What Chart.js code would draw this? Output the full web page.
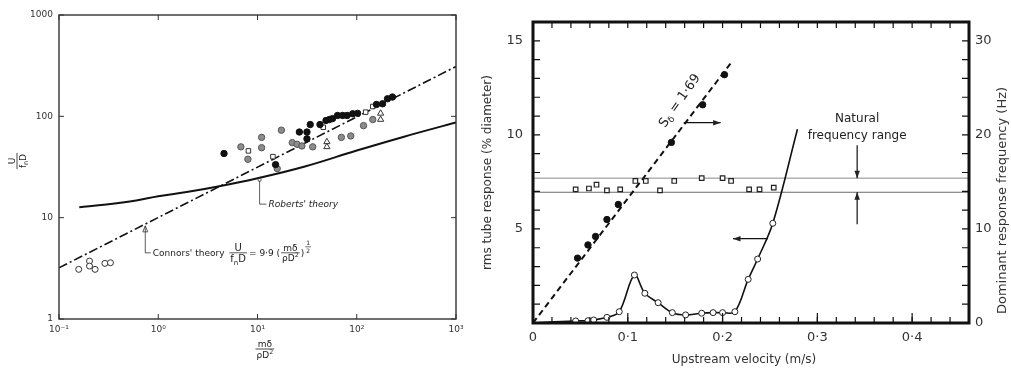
<!DOCTYPE html>
<html lang="en">
<head>
  <meta charset="UTF-8" />
  <title>Tube response charts</title>
  <style>
    body { margin: 0; background: #fff; }
    #wrap { position: relative; width: 1011px; height: 370px; overflow: hidden; }
    #left { position: absolute; left: 0; top: 0; }
    #right { position: absolute; left: 480px; top: 0; }
  </style>
</head>
<body>
  <div id="wrap">
    <canvas id="left" width="480" height="370"></canvas>
    <canvas id="right" width="531" height="370"></canvas>
  </div>

  <script src="https://cdn.jsdelivr.net/npm/chart.js"></script>
  <script>
    // ---------- left panel: reduced velocity vs mass-damping ----------
    const leftXTicks = [0.1, 1, 10, 100, 1000];
    const leftXLabels = ['10⁻¹', '10⁰', '10¹', '10²', '10³'];
    const leftYTicks = [1, 10, 100, 1000];
    const leftYLabels = ['1', '10', '100', '1000'];

    const connorsLine = [[0.1, 3.2], [1000, 310]];
    const robertsCurve = [[0.16, 12.7], [0.3, 13.5], [0.6, 14.8], [1, 16.3], [2, 18], [4, 20.3],
                          [10, 24.5], [30, 32], [100, 46], [300, 63], [1000, 87]];

    const filledPts = [[4.6, 43], [15.2, 33.4], [26.4, 70], [31.5, 70], [34, 83], [31.5, 60], [42.6, 83],
                       [49, 91], [53, 93], [57, 95], [64, 102], [72, 102], [80, 102], [91, 106],
                       [102, 107], [158, 131], [182, 133], [204, 149], [229, 155]];
    const grayPts = [[6.8, 50], [8, 37.7], [11, 62], [11, 49], [17.4, 73], [15.8, 30.5], [22.4, 55],
                     [25, 53], [28, 51], [36, 50], [70, 62], [87, 64], [117, 81], [145, 93]];
    const squarePts = [[8.1, 45.6], [14.3, 40], [46, 78], [123, 110], [145, 125]];
    const trianglePts = [[50, 56], [50, 50], [174, 93], [174, 107]];
    const openCirclePts = [[0.158, 3.09], [0.203, 3.73], [0.203, 3.33], [0.231, 3.09], [0.29, 3.54], [0.33, 3.59]];

    // annotation anchors (data units)
    const robertsNote = { x: 10.5, yTop: 24.7, yBottom: 13.6, xEnd: 12.3, xText: 12.9 };
    const connorsNote = { x: 0.74, yTop: 8.3, yBottom: 4.5, xEnd: 0.84, xText: 0.88 };

    // ---------- right panel: response vs upstream velocity ----------
    const velTicks = [0, 0.1, 0.2, 0.3, 0.4];
    const velLabels = ['0', '0·1', '0·2', '0·3', '0·4'];
    const respTicks = [5, 10, 15];
    const respLabels = ['5', '10', '15'];
    const freqTicks = [0, 10, 20, 30];
    const freqLabels = ['0', '10', '20', '30'];

    const rmsVel  = [0, 0.045, 0.058, 0.064, 0.078, 0.091, 0.107, 0.118, 0.132, 0.147, 0.161, 0.178,
                     0.190, 0.200, 0.213, 0.227, 0.237, 0.253, 0.279];
    const rmsResp = [0, 0.11, 0.12, 0.16, 0.30, 0.60, 2.55, 1.58, 1.08, 0.55, 0.43, 0.52,
                     0.55, 0.55, 0.60, 2.32, 3.4, 5.3, 10.3];
    const rmsMarked = [0, 1, 1, 1, 1, 1, 1, 1, 1, 1, 1, 1, 1, 1, 1, 1, 1, 1, 0];

    const sqVel  = [0.045, 0.059, 0.067, 0.078, 0.092, 0.108, 0.119, 0.134, 0.149, 0.178, 0.200, 0.209, 0.228, 0.239, 0.254];
    const sqFreq = [14.2, 14.3, 14.7, 14.1, 14.2, 15.1, 15.1, 14.1, 15.1, 15.4, 15.4, 15.1, 14.2, 14.2, 14.4];

    const dotVel  = [0.047, 0.058, 0.066, 0.078, 0.090, 0.146, 0.179, 0.202];
    const dotFreq = [6.9, 8.3, 9.2, 11.0, 12.6, 19.2, 23.2, 26.4];

    const strouhalLine = [[0, 0], [0.21, 27.8]];
    const natFreqLow = 13.9;
    const natFreqHigh = 15.4;

    const strouhalNote = { x: 0.155, f: 23.6, arrowFrom: 0.159, arrowTo: 0.198, arrowF: 21.3 };
    const rmsArrow = { from: 0.248, to: 0.211, y: 4.48 };
    const natNote = { x: 0.342, f1: 21.7, f2: 19.9, downFrom: 18.9, upFrom: 10.5 };

    const toXY = a => a.map(p => ({ x: p[0], y: p[1] }));
    const zipXY = (xs, ys) => xs.map((x, i) => ({ x: x, y: ys[i] }));

    // ---------- drawing helpers ----------
    function arrow(ctx, x1, y1, x2, y2, head) {
      ctx.beginPath(); ctx.moveTo(x1, y1); ctx.lineTo(x2, y2); ctx.stroke();
      const a = Math.atan2(y2 - y1, x2 - x1);
      ctx.beginPath();
      ctx.moveTo(x2, y2);
      ctx.lineTo(x2 - head * Math.cos(a - 0.35), y2 - head * Math.sin(a - 0.35));
      ctx.lineTo(x2 - head * Math.cos(a + 0.35), y2 - head * Math.sin(a + 0.35));
      ctx.closePath(); ctx.fill();
    }

    function runsWidth(ctx, parts, size, family) {
      let w = 0;
      for (const [t, m] of parts) {
        ctx.font = (m ? size * 0.7 : size) + 'px ' + family;
        w += ctx.measureText(t).width;
      }
      return w;
    }
    function runs(ctx, parts, x, y, size, family) {
      let cx = x;
      for (const [t, m] of parts) {
        ctx.font = (m ? size * 0.7 : size) + 'px ' + family;
        const dy = m === 'sub' ? size * 0.3 : m === 'sup' ? -size * 0.45 : 0;
        ctx.fillText(t, cx, y + dy);
        cx += ctx.measureText(t).width;
      }
      return cx - x;
    }
    function fraction(ctx, num, den, left, cy, size, family) {
      const wn = runsWidth(ctx, num, size, family), wd = runsWidth(ctx, den, size, family);
      const w = Math.max(wn, wd) + 2;
      ctx.textAlign = 'left'; ctx.textBaseline = 'alphabetic';
      runs(ctx, num, left + (w - wn) / 2, cy - 2, size, family);
      ctx.beginPath(); ctx.moveTo(left, cy); ctx.lineTo(left + w, cy); ctx.stroke();
      runs(ctx, den, left + (w - wd) / 2, cy + size * 0.85 + 1, size, family);
      return w;
    }

    function innerTicks(ctx, area, scale, values, side, len) {
      ctx.beginPath();
      for (const v of values) {
        const p = scale.getPixelForValue(v);
        if (side === 'bottom') { ctx.moveTo(p, area.bottom); ctx.lineTo(p, area.bottom - len); }
        if (side === 'top') { ctx.moveTo(p, area.top); ctx.lineTo(p, area.top + len); }
        if (side === 'left') { ctx.moveTo(area.left, p); ctx.lineTo(area.left + len, p); }
        if (side === 'right') { ctx.moveTo(area.right, p); ctx.lineTo(area.right - len, p); }
      }
      ctx.stroke();
    }

    const LF = '"DejaVu Sans", sans-serif';

    const leftDecor = {
      id: 'leftDecor',
      afterDraw(chart) {
        const ctx = chart.ctx, a = chart.chartArea, sx = chart.scales.x, sy = chart.scales.y;
        ctx.save();
        ctx.strokeStyle = '#333'; ctx.fillStyle = '#222'; ctx.lineWidth = 1.4;
        ctx.strokeRect(a.left, a.top, a.right - a.left, a.bottom - a.top);
        ctx.lineWidth = 1;
        innerTicks(ctx, a, sx, leftXTicks, 'bottom', 5);
        innerTicks(ctx, a, sx, leftXTicks, 'top', 5);
        innerTicks(ctx, a, sy, leftYTicks, 'left', 5);
        innerTicks(ctx, a, sy, leftYTicks, 'right', 5);

        // Roberts' theory leader
        const rx = sx.getPixelForValue(robertsNote.x);
        const ry1 = sy.getPixelForValue(robertsNote.yTop), ry2 = sy.getPixelForValue(robertsNote.yBottom);
        ctx.lineWidth = 0.8;
        ctx.beginPath(); ctx.moveTo(rx, ry1 + 3); ctx.lineTo(rx, ry2);
        ctx.lineTo(sx.getPixelForValue(robertsNote.xEnd), ry2); ctx.stroke();
        ctx.beginPath(); ctx.arc(rx, ry1 + 2, 1.6, 0, Math.PI * 2); ctx.stroke();
        ctx.font = 'italic 9px ' + LF; ctx.textAlign = 'left'; ctx.textBaseline = 'middle';
        ctx.fillText("Roberts' theory", sx.getPixelForValue(robertsNote.xText), ry2 + 1);

        // Connors' theory leader and formula
        const cx0 = sx.getPixelForValue(connorsNote.x);
        const cy1 = sy.getPixelForValue(connorsNote.yTop), cy2 = sy.getPixelForValue(connorsNote.yBottom);
        ctx.beginPath(); ctx.moveTo(cx0, cy1); ctx.lineTo(cx0, cy2);
        ctx.lineTo(sx.getPixelForValue(connorsNote.xEnd), cy2); ctx.stroke();
        ctx.beginPath(); ctx.moveTo(cx0, cy1); ctx.lineTo(cx0 - 2.5, cy1 + 6); ctx.lineTo(cx0 + 2.5, cy1 + 6);
        ctx.closePath(); ctx.stroke();
        let tx = sx.getPixelForValue(connorsNote.xText);
        const base = cy2 + 3;
        ctx.font = '9px ' + LF; ctx.textBaseline = 'alphabetic';
        ctx.fillText("Connors' theory ", tx, base);
        tx += ctx.measureText("Connors' theory ").width + 2;
        tx += fraction(ctx, [['U', '']], [['f', ''], ['n', 'sub'], ['D', '']], tx, base - 3, 10, LF) + 2;
        ctx.font = '9px ' + LF;
        ctx.fillText('= 9·9 (', tx, base);
        tx += ctx.measureText('= 9·9 (').width + 1;
        tx += fraction(ctx, [['mδ', '']], [['ρD', ''], ['2', 'sup']], tx, base - 3, 9, LF) + 1;
        ctx.font = '9px ' + LF;
        ctx.fillText(')', tx, base);
        tx += ctx.measureText(')').width + 1;
        ctx.lineWidth = 0.7;
        fraction(ctx, [['1', '']], [['2', '']], tx, base - 9, 6, LF);

        // axis titles
        ctx.lineWidth = 0.9;
        fraction(ctx, [['mδ', '']], [['ρD', ''], ['2', 'sup']], (a.left + a.right) / 2 - 2, a.bottom + 30, 9, LF);
        ctx.save();
        ctx.translate(17, (a.top + a.bottom) / 2 - 6);
        ctx.rotate(-Math.PI / 2);
        const w = runsWidth(ctx, [['f', ''], ['n', 'sub'], ['D', '']], 9, LF) + 2;
        fraction(ctx, [['U', '']], [['f', ''], ['n', 'sub'], ['D', '']], -w / 2, 0, 9, LF);
        ctx.restore();
        ctx.restore();
      }
    };

    new Chart(document.getElementById('left'), {
      type: 'scatter',
      data: {
        datasets: [
          { data: toXY(filledPts), pointRadius: 3.2, backgroundColor: '#111', borderColor: '#111' },
          { data: toXY(grayPts), pointRadius: 3.2, backgroundColor: '#8c8c8c', borderColor: '#555', borderWidth: 1 },
          { data: toXY(squarePts), pointStyle: 'rect', pointRadius: 3.2, backgroundColor: '#fff', borderColor: '#333', borderWidth: 1 },
          { data: toXY(trianglePts), pointStyle: 'triangle', pointRadius: 3.6, backgroundColor: '#fff', borderColor: '#333', borderWidth: 1 },
          { data: toXY(openCirclePts), pointRadius: 3, backgroundColor: '#fff', borderColor: '#333', borderWidth: 1 },
          { type: 'line', data: toXY(robertsCurve), borderColor: '#111', borderWidth: 2, pointRadius: 0, tension: 0.4 },
          { type: 'line', data: toXY(connorsLine), borderColor: '#111', borderWidth: 1.6, borderDash: [9, 3, 2, 3], pointRadius: 0 }
        ]
      },
      options: {
        responsive: false, animation: false,
        layout: { padding: { top: 15, right: 24 } },
        plugins: { legend: { display: false }, tooltip: { enabled: false } },
        scales: {
          x: {
            type: 'logarithmic', min: 0.1, max: 1000,
            afterBuildTicks: s => { s.ticks = leftXTicks.map(v => ({ value: v })); },
            ticks: { callback: (v, i) => leftXLabels[i], autoSkip: false, maxRotation: 0, padding: 5,
                     color: '#333', font: { family: 'DejaVu Sans', size: 9 } },
            grid: { display: false, drawTicks: false }, border: { display: false },
            afterFit: s => { s.height = 51; }
          },
          y: {
            type: 'logarithmic', min: 1, max: 1000,
            afterBuildTicks: s => { s.ticks = leftYTicks.map(v => ({ value: v })); },
            ticks: { callback: (v, i) => leftYLabels[i], autoSkip: false, padding: 6,
                     color: '#333', font: { family: 'DejaVu Sans', size: 9 } },
            grid: { display: false, drawTicks: false }, border: { display: false },
            afterFit: s => { s.width = 59; }
          }
        }
      },
      plugins: [leftDecor]
    });

    // ---------- right panel ----------
    const minorVel = [], minorResp = [], minorFreq = [];
    for (let i = 0; i <= 23; i++) minorVel.push(i * 0.02);
    for (let i = 0; i <= 16; i++) minorResp.push(i);
    for (let i = 0; i <= 32; i += 2) minorFreq.push(i);

    const RF = '"DejaVu Sans", sans-serif';

    const rightDecor = {
      id: 'rightDecor',
      afterDraw(chart) {
        const ctx = chart.ctx, a = chart.chartArea;
        const sx = chart.scales.x, sy = chart.scales.y, sf = chart.scales.yR;
        ctx.save();
        ctx.strokeStyle = '#111'; ctx.fillStyle = '#111';
        ctx.lineWidth = 1.2;
        innerTicks(ctx, a, sx, minorVel, 'bottom', 6);
        innerTicks(ctx, a, sx, minorVel, 'top', 6);
        innerTicks(ctx, a, sx, velTicks, 'bottom', 10);
        innerTicks(ctx, a, sy, minorResp, 'left', 7);
        innerTicks(ctx, a, sf, minorFreq, 'right', 7);
        ctx.lineWidth = 3;
        ctx.strokeRect(a.left, a.top, a.right - a.left, a.bottom - a.top);

        // Strouhal label and arrow
        ctx.lineWidth = 1.2;
        ctx.fillStyle = '#222';
        ctx.save();
        ctx.translate(sx.getPixelForValue(strouhalNote.x), sf.getPixelForValue(strouhalNote.f));
        ctx.rotate(-55 * Math.PI / 180);
        ctx.textBaseline = 'middle';
        const sw = runsWidth(ctx, [['S', ''], ['δ', 'sub'], [' = 1·69', '']], 13, RF);
        runs(ctx, [['S', ''], ['δ', 'sub'], [' = 1·69', '']], -sw / 2, 0, 13, RF);
        ctx.restore();
        const ay = sf.getPixelForValue(strouhalNote.arrowF);
        arrow(ctx, sx.getPixelForValue(strouhalNote.arrowFrom), ay, sx.getPixelForValue(strouhalNote.arrowTo), ay, 8);

        // rms arrow
        const ry = sy.getPixelForValue(rmsArrow.y);
        arrow(ctx, sx.getPixelForValue(rmsArrow.from), ry, sx.getPixelForValue(rmsArrow.to), ry, 8);

        // natural frequency range
        const nx = sx.getPixelForValue(natNote.x);
        ctx.font = '12px ' + RF; ctx.textAlign = 'center'; ctx.textBaseline = 'middle';
        ctx.fillText('Natural', nx, sf.getPixelForValue(natNote.f1));
        ctx.fillText('frequency range', nx, sf.getPixelForValue(natNote.f2));
        arrow(ctx, nx, sf.getPixelForValue(natNote.downFrom), nx, sf.getPixelForValue(natFreqHigh), 8);
        arrow(ctx, nx, sf.getPixelForValue(natNote.upFrom), nx, sf.getPixelForValue(natFreqLow), 8);

        // axis titles
        ctx.fillStyle = '#333';
        ctx.font = '12px ' + RF;
        ctx.fillText('Upstream velocity (m/s)', (a.left + a.right) / 2 - 7, a.bottom + 37);
        ctx.save();
        ctx.translate(8, (a.top + a.bottom) / 2);
        ctx.rotate(-Math.PI / 2);
        ctx.fillText('rms tube response (% diameter)', 0, 0);
        ctx.restore();
        ctx.save();
        ctx.translate(chart.width - 8, (a.top + a.bottom) / 2 + 28);
        ctx.rotate(-Math.PI / 2);
        ctx.font = '13px ' + RF;
        ctx.fillText('Dominant response frequency (Hz)', 0, 0);
        ctx.restore();
        ctx.restore();
      }
    };

    const tickFont = { family: 'DejaVu Sans', size: 13 };

    new Chart(document.getElementById('right'), {
      type: 'scatter',
      data: {
        datasets: [
          { data: zipXY(dotVel, dotFreq), yAxisID: 'yR', pointRadius: 3.2, backgroundColor: '#111', borderColor: '#111' },
          { data: zipXY(sqVel, sqFreq), yAxisID: 'yR', pointStyle: 'rect', pointRadius: 3.2,
            backgroundColor: '#fff', borderColor: '#222', borderWidth: 1.2 },
          { type: 'line', data: zipXY(rmsVel, rmsResp), yAxisID: 'y', borderColor: '#111', borderWidth: 1.6,
            tension: 0.35, pointRadius: rmsMarked.map(m => m * 3),
            pointBackgroundColor: '#fff', pointBorderColor: '#222', pointBorderWidth: 1 },
          { type: 'line', data: toXY(strouhalLine), yAxisID: 'yR', borderColor: '#111', borderWidth: 2,
            borderDash: [6, 4], pointRadius: 0 },
          { type: 'line', data: [{ x: 0, y: natFreqHigh }, { x: 0.46, y: natFreqHigh }], yAxisID: 'yR',
            borderColor: '#8a8a8a', borderWidth: 1, pointRadius: 0 },
          { type: 'line', data: [{ x: 0, y: natFreqLow }, { x: 0.46, y: natFreqLow }], yAxisID: 'yR',
            borderColor: '#6a6a6a', borderWidth: 1, pointRadius: 0 }
        ]
      },
      options: {
        responsive: false, animation: false,
        layout: { padding: { top: 22 } },
        plugins: { legend: { display: false }, tooltip: { enabled: false } },
        scales: {
          x: {
            type: 'linear', min: 0, max: 0.46,
            afterBuildTicks: s => { s.ticks = velTicks.map(v => ({ value: v })); },
            ticks: { callback: (v, i) => velLabels[i], autoSkip: false, maxRotation: 0, padding: 7,
                     color: '#333', font: tickFont },
            grid: { display: false, drawTicks: false }, border: { display: false },
            afterFit: s => { s.height = 47; }
          },
          y: {
            type: 'linear', position: 'left', min: 0, max: 16,
            afterBuildTicks: s => { s.ticks = respTicks.map(v => ({ value: v })); },
            ticks: { callback: (v, i) => respLabels[i], autoSkip: false, padding: 10,
                     color: '#333', font: tickFont },
            grid: { display: false, drawTicks: false }, border: { display: false },
            afterFit: s => { s.width = 53; }
          },
          yR: {
            type: 'linear', position: 'right', min: 0, max: 32,
            afterBuildTicks: s => { s.ticks = freqTicks.map(v => ({ value: v })); },
            ticks: { callback: (v, i) => freqLabels[i], autoSkip: false, padding: 6,
                     color: '#333', font: tickFont },
            grid: { display: false, drawTicks: false }, border: { display: false },
            afterFit: s => { s.width = 42; }
          }
        }
      },
      plugins: [rightDecor]
    });
  </script>
</body>
</html>
